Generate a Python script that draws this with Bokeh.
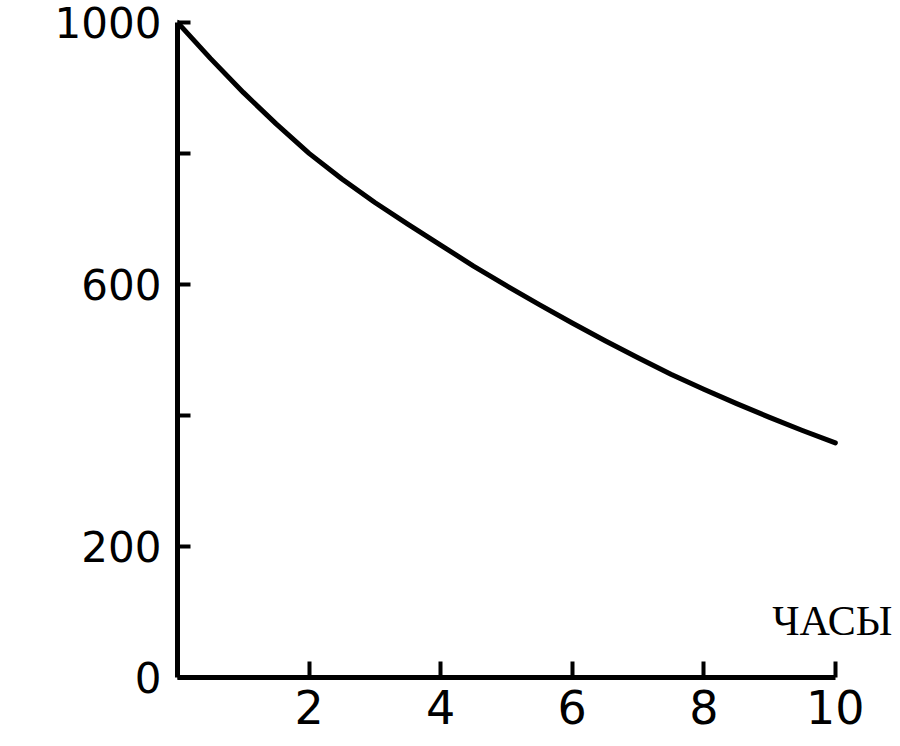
from bokeh.plotting import figure
from bokeh.models import Range1d, FixedTicker, Label
from bokeh.embed import file_html
from bokeh.resources import INLINE

# Data
hours = [0, 0.5, 1, 1.5, 2, 2.5, 3, 3.5, 4, 4.5, 5, 5.5, 6, 6.5, 7, 7.5, 8, 8.5, 9, 9.5, 10]
amount = [1000, 945, 893, 845, 800, 761, 725, 692, 660, 628, 598, 569, 541, 514, 488, 463, 440, 418, 397, 377, 358]

x_ticks = [2, 4, 6, 8, 10]
x_tick_labels = ["2", "4", "6", "8", "10"]
y_ticks = [0, 200, 400, 600, 800, 1000]
y_tick_labels = ["0", "200", "", "600", "", "1000"]
x_title = "ЧАСЫ"

p = figure(width=898, height=744, output_backend="svg", toolbar_location=None,
           x_range=Range1d(0, 10.96), y_range=Range1d(0, 1015),
           min_border_left=177, min_border_top=12, min_border_right=0, min_border_bottom=67)
p.outline_line_color = None
p.grid.grid_line_color = None
p.background_fill_color = "white"
p.border_fill_color = "white"

p.line(hours, amount, line_color="black", line_width=5, line_cap="round", line_join="round")

for ax in (p.xaxis[0], p.yaxis[0]):
    ax.axis_line_color = "black"
    ax.axis_line_width = 5
    ax.major_tick_line_color = "black"
    ax.major_tick_line_width = 4
    ax.major_tick_out = 0
    ax.minor_tick_line_color = None
    ax.major_label_text_font = "DejaVu Sans"
    ax.major_label_text_color = "black"

p.xaxis.bounds = (0, 10)
p.xaxis.ticker = FixedTicker(ticks=x_ticks)
p.xaxis.major_label_overrides = {t: s for t, s in zip(x_ticks, x_tick_labels)}
p.xaxis.major_tick_in = 16
p.xaxis.major_label_text_font_size = "46px"
p.xaxis.major_label_standoff = 12

p.yaxis.bounds = (0, 1000)
p.yaxis.ticker = FixedTicker(ticks=y_ticks)
p.yaxis.major_label_overrides = {t: s for t, s in zip(y_ticks, y_tick_labels)}
p.yaxis.major_tick_in = 13
p.yaxis.major_label_text_font_size = "42px"
p.yaxis.major_label_standoff = 16

p.add_layout(Label(x=9.04, y=87, text=x_title, text_font="Liberation Serif",
                   text_font_size="42px", text_color="black", text_baseline="alphabetic"))

open("out.html", "w").write(file_html(p, INLINE))
